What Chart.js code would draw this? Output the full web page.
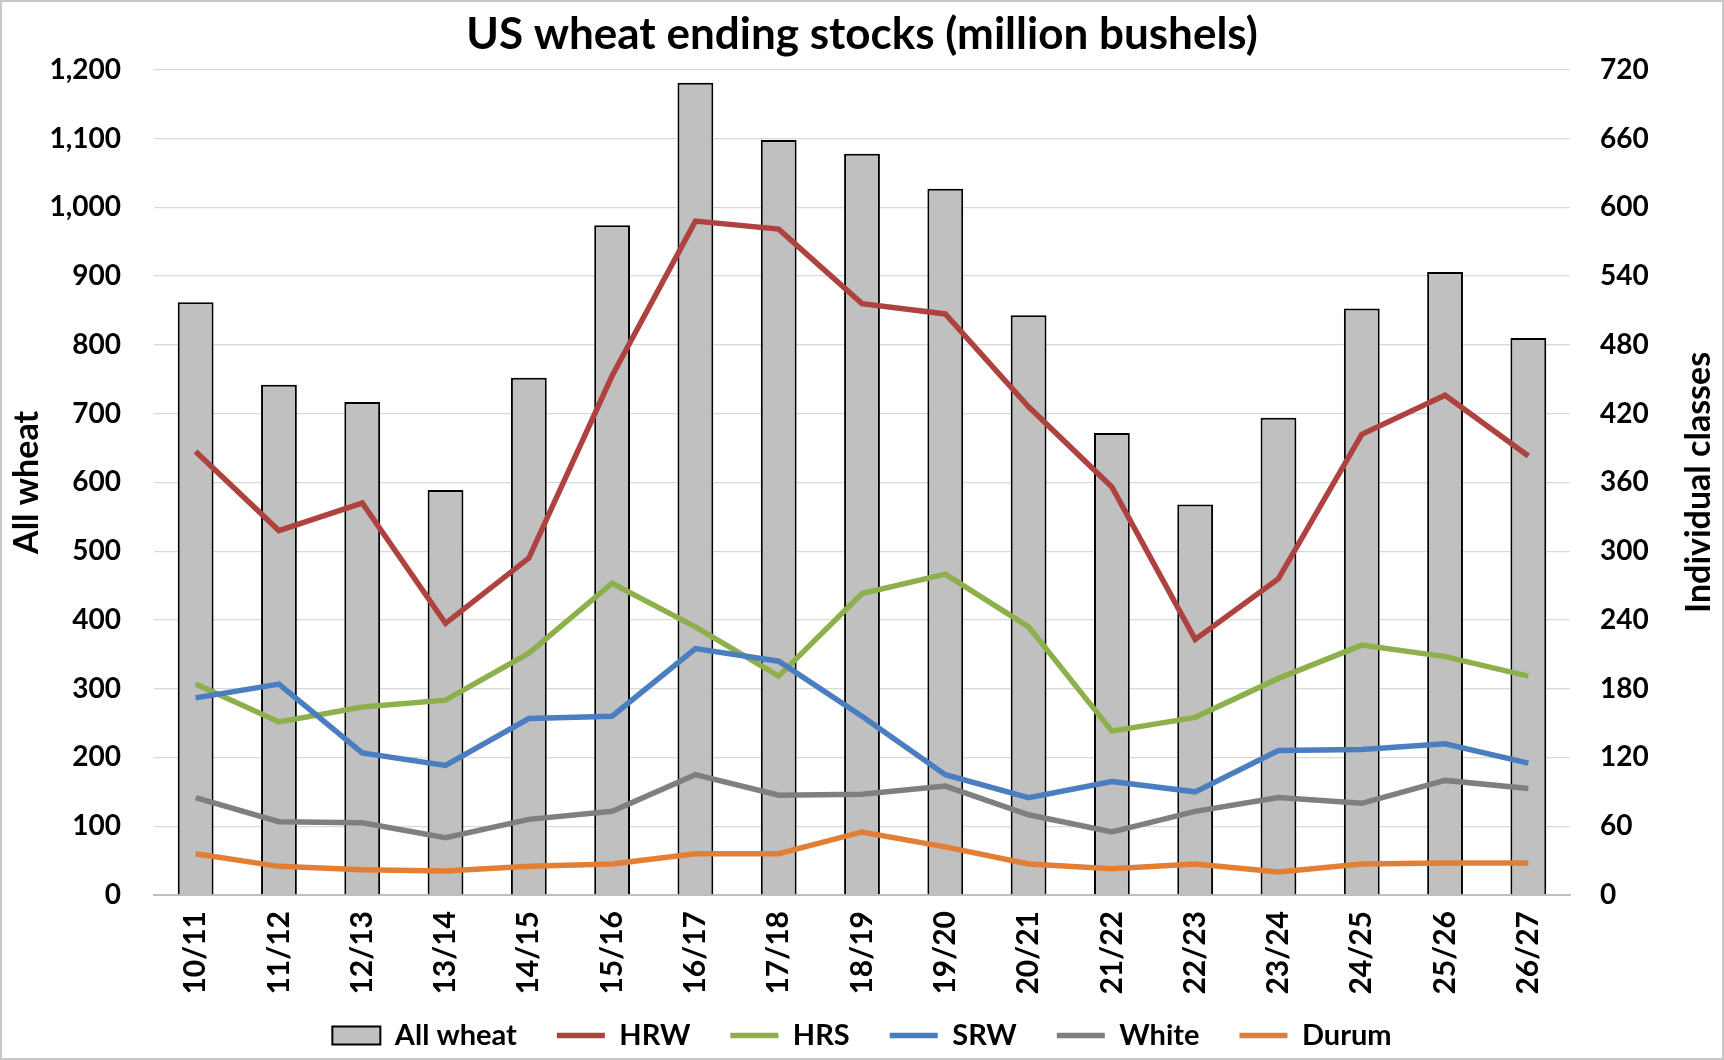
<!DOCTYPE html>
<html>
<head>
<meta charset="utf-8">
<title>US wheat ending stocks</title>
<script src="https://cdn.jsdelivr.net/npm/chart.js@4.4.1/dist/chart.umd.min.js"></script>
<style>
    body { margin: 0; background: #ffffff; }
    #wrap { width: 1724px; height: 1060px; }
</style>
</head>
<body>
<div id="wrap"><canvas id="myChart" width="1724" height="1060"></canvas></div>
<script>
// Datos
const marketingYears = ['10/11', '11/12', '12/13', '13/14', '14/15', '15/16', '16/17', '17/18', '18/19',
    '19/20', '20/21', '21/22', '22/23', '23/24', '24/25', '25/26', '26/27'];
const allWheat = [862, 742, 717, 589, 752, 974, 1181, 1098, 1078, 1027, 843, 672, 568, 694, 853, 906, 810];
const hrw = [387, 318, 342, 237, 294, 453, 588, 581, 516, 507, 426, 356, 223, 276, 402, 436, 383];
const hrs = [184, 151, 164, 170, 211, 272, 234, 191, 263, 280, 234, 143, 155, 189, 218, 208, 191];
const srw = [172, 184, 124, 113, 154, 156, 215, 204, 156, 105, 85, 99, 90, 126, 127, 132, 115];
const white = [85, 64, 63, 50, 66, 73, 105, 87, 88, 95, 70, 55, 73, 85, 80, 100, 93];
const durum = [36, 25, 22, 21, 25, 27, 36, 36, 55, 42, 27, 23, 27, 20, 27, 28, 28];
const leftTicks = [0, 1200, 100];
const rightTicks = [0, 720, 60];
const rightTitle = 'Individual classes';

(() => {
    const ctx = document.getElementById('myChart').getContext('2d');
    const fontName = 'Lato, "Open Sans", sans-serif';

    // fondo blanco, marco gris y titulo del eje derecho (de abajo hacia arriba)
    const fondo = {
        id: 'fondo',
        afterLayout(chart) {
            // las etiquetas del eje x pueden bajar hasta la leyenda sin recortarse
            chart.scales.x.bottom = chart.height;
        },
        beforeDraw(chart) {
            const c = chart.ctx;
            c.save();
            c.fillStyle = '#ffffff';
            c.fillRect(0, 0, chart.width, chart.height);
            c.strokeStyle = '#c8c8c8';
            c.lineWidth = 2;
            c.strokeRect(1, 1, chart.width - 2, chart.height - 2);
            c.restore();
        },
        afterDraw(chart) {
            const c = chart.ctx;
            const area = chart.chartArea;
            c.save();
            c.translate(1699, (area.top + area.bottom) / 2);
            c.rotate(-Math.PI / 2);
            c.fillStyle = '#000000';
            c.font = 'bold 34px ' + fontName;
            c.textAlign = 'center';
            c.textBaseline = 'middle';
            c.fillText(rightTitle, 0, 0);
            c.restore();
        }
    };

    const linea = (label, data, color, order) => ({
        type: 'line',
        label: label,
        data: data,
        yAxisID: 'y1',
        borderColor: color,
        backgroundColor: color,
        borderWidth: 5.5,
        pointRadius: 0,
        pointStyle: 'line',
        tension: 0,
        order: order
    });

    new Chart(ctx, {
        type: 'bar',
        data: {
            labels: marketingYears,
            datasets: [
                {
                    label: 'All wheat',
                    data: allWheat,
                    yAxisID: 'y',
                    backgroundColor: '#c0c0c0',
                    borderColor: '#000000',
                    borderWidth: 2,
                    barPercentage: 0.43,
                    categoryPercentage: 1,
                    pointStyle: 'rect',
                    order: 10
                },
                linea('HRW', hrw, '#ae423f', 5),
                linea('HRS', hrs, '#8eb04c', 4),
                linea('SRW', srw, '#4a7ec1', 3),
                linea('White', white, '#7f7f7f', 2),
                linea('Durum', durum, '#e27f34', 1)
            ]
        },
        options: {
            responsive: false,
            animation: false,
            layout: { padding: { left: 0, right: 0, top: 0, bottom: 0 } },
            plugins: {
                title: {
                    display: true,
                    text: 'US wheat ending stocks (million bushels)',
                    color: '#000000',
                    font: { family: fontName, size: 44, weight: 'bold' },
                    padding: { top: 8, bottom: 9 }
                },
                legend: {
                    position: 'bottom',
                    labels: {
                        usePointStyle: true,
                        pointStyleWidth: 48,
                        boxHeight: 18,
                        padding: 40,
                        color: '#000000',
                        font: { family: fontName, size: 29, weight: 'bold' },
                        sort: (a, b) => a.datasetIndex - b.datasetIndex
                    }
                },
                tooltip: { enabled: false }
            },
            scales: {
                x: {
                    afterFit: (scale) => { scale.height = 86; },
                    grid: { display: false },
                    border: { display: true, color: '#bfbfbf', width: 2 },
                    ticks: {
                        color: '#000000',
                        minRotation: 90,
                        maxRotation: 90,
                        padding: 8,
                        font: { family: fontName, size: 30, weight: 'bold' }
                    }
                },
                y: {
                    position: 'left',
                    min: leftTicks[0],
                    max: leftTicks[1],
                    afterFit: (scale) => { scale.width = 154; },
                    grid: { color: '#d9d9d9', lineWidth: 1.3, drawTicks: false },
                    border: { display: false },
                    ticks: {
                        stepSize: leftTicks[2],
                        padding: 33,
                        color: '#000000',
                        font: { family: fontName, size: 28, weight: 'bold' },
                        callback: (v) => v.toLocaleString('en-US')
                    },
                    title: {
                        display: true,
                        text: 'All wheat',
                        color: '#000000',
                        font: { family: fontName, size: 34, weight: 'bold' },
                        padding: { top: 7, bottom: 0 }
                    }
                },
                y1: {
                    position: 'right',
                    min: rightTicks[0],
                    max: rightTicks[1],
                    afterFit: (scale) => { scale.width = 154; },
                    grid: { display: false, drawTicks: false },
                    border: { display: false },
                    ticks: {
                        stepSize: rightTicks[2],
                        padding: 30,
                        color: '#000000',
                        font: { family: fontName, size: 28, weight: 'bold' }
                    }
                }
            }
        },
        plugins: [fondo]
    });
})();
</script>
</body>
</html>
